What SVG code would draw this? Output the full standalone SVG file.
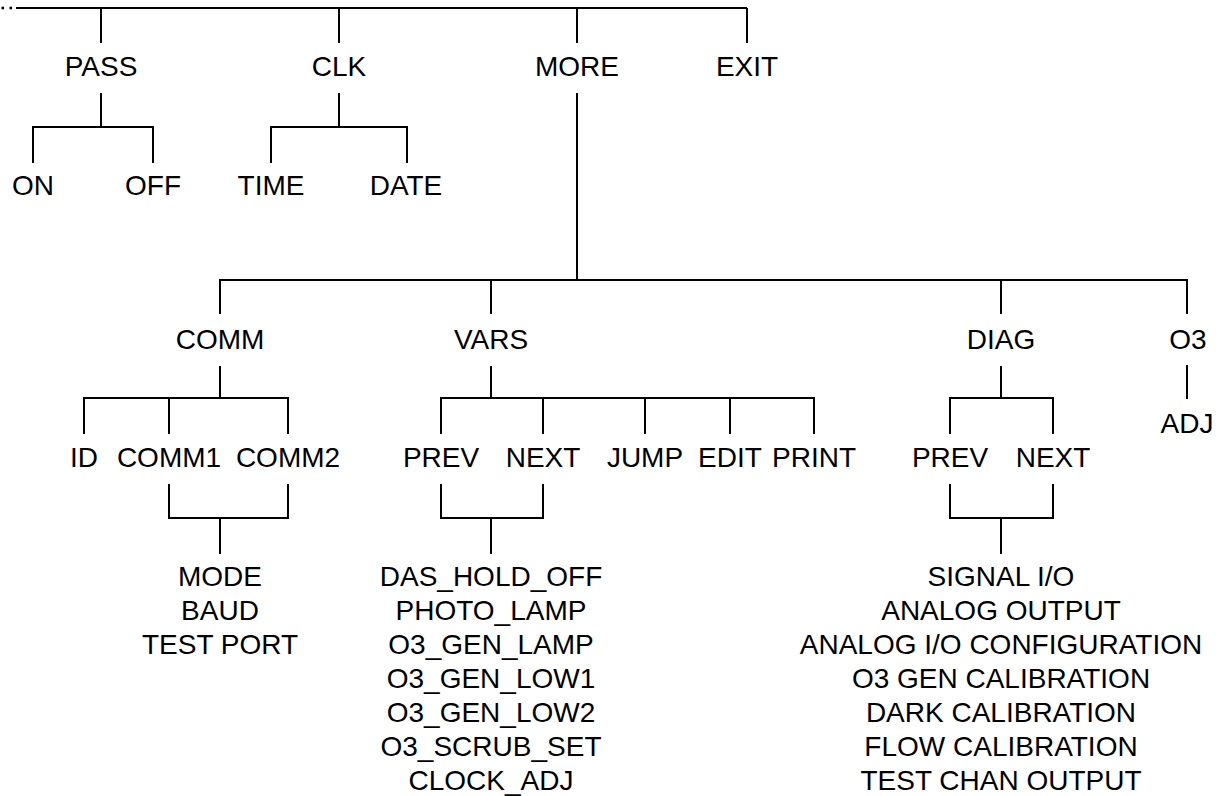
<svg xmlns="http://www.w3.org/2000/svg" width="1219" height="796" viewBox="0 0 1219 796">
<style>
text{font-family:"Liberation Sans",Arial,sans-serif;font-size:28px;fill:#000;text-anchor:middle}
.c{stroke:#000;stroke-width:2;fill:none}
.d{stroke:#000;stroke-width:2.5;fill:none;stroke-dasharray:2.5 5.5}
</style>
<rect width="1219" height="796" fill="#fff"/>
<g id="connectors">
<path class="d" d="M1.5 8H14"/>
<path class="c" d="M16 8H747M101 8V43M339 8V43M577 8V43M747 8V43"/>
<path class="c" d="M101 93V127M33 163V127H153V163"/>
<path class="c" d="M339 93V127M271 163V127H407V163"/>
<path class="c" d="M577 93V280M220 314V280H1187V314M491 280V314M1001 280V314"/>
<path class="c" d="M220 366V398M84 434V398H288V434M169 398V434"/>
<path class="c" d="M169 484V518H288V484M220 518V554"/>
<path class="c" d="M491 366V398M441 434V398H814V434M543 398V434M645 398V434M730 398V434"/>
<path class="c" d="M441 484V518H543V484M491 518V554"/>
<path class="c" d="M1001 366V398M950 434V398H1053V434"/>
<path class="c" d="M950 484V518H1053V484M1001 518V554"/>
<path class="c" d="M1187 365V399"/>
</g>
<g id="pass"><text x="101" y="76">PASS</text></g>
<g id="clk"><text x="339" y="76">CLK</text></g>
<g id="more"><text x="577" y="76">MORE</text></g>
<g id="exit"><text x="747" y="76">EXIT</text></g>
<g id="on"><text x="33" y="195">ON</text></g>
<g id="off"><text x="153" y="195">OFF</text></g>
<g id="time"><text x="271" y="195">TIME</text></g>
<g id="date"><text x="406" y="195">DATE</text></g>
<g id="comm"><text x="220" y="349">COMM</text></g>
<g id="vars"><text x="491" y="349">VARS</text></g>
<g id="diag"><text x="1001" y="349">DIAG</text></g>
<g id="o3"><text x="1188" y="349">O3</text></g>
<g id="adj"><text x="1187" y="433">ADJ</text></g>
<g id="id"><text x="84" y="467">ID</text></g>
<g id="comm1"><text x="169" y="467">COMM1</text></g>
<g id="comm2"><text x="288" y="467">COMM2</text></g>
<g id="vars-prev"><text x="441" y="467">PREV</text></g>
<g id="vars-next"><text x="543" y="467">NEXT</text></g>
<g id="jump"><text x="645" y="467">JUMP</text></g>
<g id="edit"><text x="730" y="467">EDIT</text></g>
<g id="print"><text x="814" y="467">PRINT</text></g>
<g id="diag-prev"><text x="950" y="467">PREV</text></g>
<g id="diag-next"><text x="1053" y="467">NEXT</text></g>
<g id="comm-list">
<text x="220" y="586">MODE</text>
<text x="220" y="620">BAUD</text>
<text x="220" y="654">TEST PORT</text>
</g>
<g id="vars-list">
<text x="491" y="586">DAS_HOLD_OFF</text>
<text x="491" y="620">PHOTO_LAMP</text>
<text x="491" y="654">O3_GEN_LAMP</text>
<text x="491" y="688">O3_GEN_LOW1</text>
<text x="491" y="722">O3_GEN_LOW2</text>
<text x="491" y="756">O3_SCRUB_SET</text>
<text x="491" y="790">CLOCK_ADJ</text>
</g>
<g id="diag-list">
<text x="1001" y="586">SIGNAL I/O</text>
<text x="1001" y="620">ANALOG OUTPUT</text>
<text x="1001" y="654">ANALOG I/O CONFIGURATION</text>
<text x="1001" y="688">O3 GEN CALIBRATION</text>
<text x="1001" y="722">DARK CALIBRATION</text>
<text x="1001" y="756">FLOW CALIBRATION</text>
<text x="1001" y="790">TEST CHAN OUTPUT</text>
</g>
</svg>
